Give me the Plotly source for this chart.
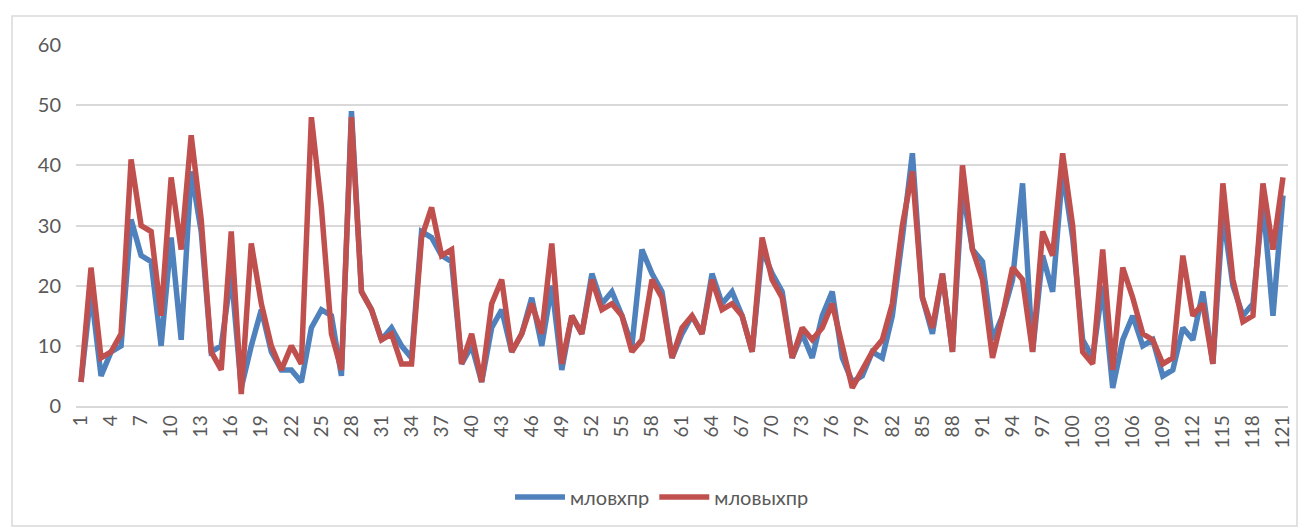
import plotly.graph_objects as go

# Category index 1..121
categories = list(range(1, 122))

# Series values
mlovhpr = [4, 19, 5, 9, 10, 31, 25, 24, 10, 28,
           11, 39, 29, 9, 10, 22, 3, 10, 16, 9,
           6, 6, 4, 13, 16, 15, 5, 49, 19, 16,
           11, 13, 10, 8, 29, 28, 25, 24, 7, 10,
           4, 13, 16, 9, 12, 18, 10, 20, 6, 15,
           12, 22, 17, 19, 15, 10, 26, 22, 19, 8,
           12, 15, 12, 22, 17, 19, 15, 9, 26, 22,
           19, 8, 12, 8, 15, 19, 8, 4, 5, 9,
           8, 15, 28, 42, 18, 12, 22, 9, 36, 26,
           24, 11, 15, 21, 37, 9, 25, 19, 39, 28,
           11, 8, 20, 3, 11, 15, 10, 11, 5, 6,
           13, 11, 19, 7, 32, 20, 15, 17, 34, 15,
           35]
mlovyhpr = [4, 23, 8, 9, 12, 41, 30, 29, 15, 38,
            26, 45, 31, 9, 6, 29, 2, 27, 17, 10,
            6, 10, 7, 48, 33, 12, 6, 48, 19, 16,
            11, 12, 7, 7, 28, 33, 25, 26, 7, 12,
            4, 17, 21, 9, 12, 17, 12, 27, 7, 15,
            12, 21, 16, 17, 15, 9, 11, 21, 18, 8,
            13, 15, 12, 21, 16, 17, 15, 9, 28, 21,
            18, 8, 13, 11, 13, 17, 10, 3, 6, 9,
            11, 17, 30, 39, 18, 13, 22, 9, 40, 26,
            21, 8, 15, 23, 21, 9, 29, 25, 42, 30,
            9, 7, 26, 6, 23, 18, 12, 11, 7, 8,
            25, 15, 17, 7, 37, 21, 14, 15, 37, 26,
            38]

x_ticks = categories[::3]
y_ticks = [0, 10, 20, 30, 40, 50, 60]

BLUE = "#4F81BD"
RED = "#C0504D"
FONT = "Lato, 'Open Sans', sans-serif"

fig = go.Figure()
fig.add_trace(go.Scatter(x=categories, y=mlovhpr, mode="lines", name="мловхпр",
                         line=dict(color=BLUE, width=5.5, shape="linear")))
fig.add_trace(go.Scatter(x=categories, y=mlovyhpr, mode="lines", name="мловыхпр",
                         line=dict(color=RED, width=5.5, shape="linear")))

L, R, T, B = 76, 21, 45, 123
W, H = 1309, 529
pw = W - L - R
ph = H - T - B

fig.update_layout(
    width=W, height=H,
    margin=dict(l=L, r=R, t=T, b=B),
    paper_bgcolor="white", plot_bgcolor="white",
    font=dict(family=FONT, size=20, color="#595959"),
    showlegend=True,
    legend=dict(orientation="h", x=(662 - L) / pw, xanchor="center",
                y=(H - B - 497) / ph, yanchor="middle",
                font=dict(size=20, color="#595959"),
                itemwidth=50, tracegroupgap=0, bgcolor="rgba(0,0,0,0)"),
    xaxis=dict(range=[0.5, 121.5], tickmode="array", tickvals=x_ticks,
               ticktext=[str(v) for v in x_ticks], tickangle=-90,
               showgrid=False, zeroline=False, showline=True,
               linecolor="#d9d9d9", linewidth=1.5, ticks="",
               tickfont=dict(size=19, color="#595959")),
    yaxis=dict(range=[0, 60], tickmode="array", tickvals=y_ticks,
               showgrid=True, gridcolor="#d9d9d9", gridwidth=1.5,
               zeroline=False, showline=False, ticks="",
               ticklabelstandoff=14,
               tickfont=dict(size=20, color="#595959")),
    shapes=[dict(type="rect", xref="paper", yref="paper",
                 x0=(12 - L) / pw, x1=(1297 - L) / pw,
                 y0=(H - B - 526) / ph, y1=(H - B - 16) / ph,
                 line=dict(color="#d9d9d9", width=1.5), fillcolor="rgba(0,0,0,0)",
                 layer="below")],
)

fig.write_html("out.html")
